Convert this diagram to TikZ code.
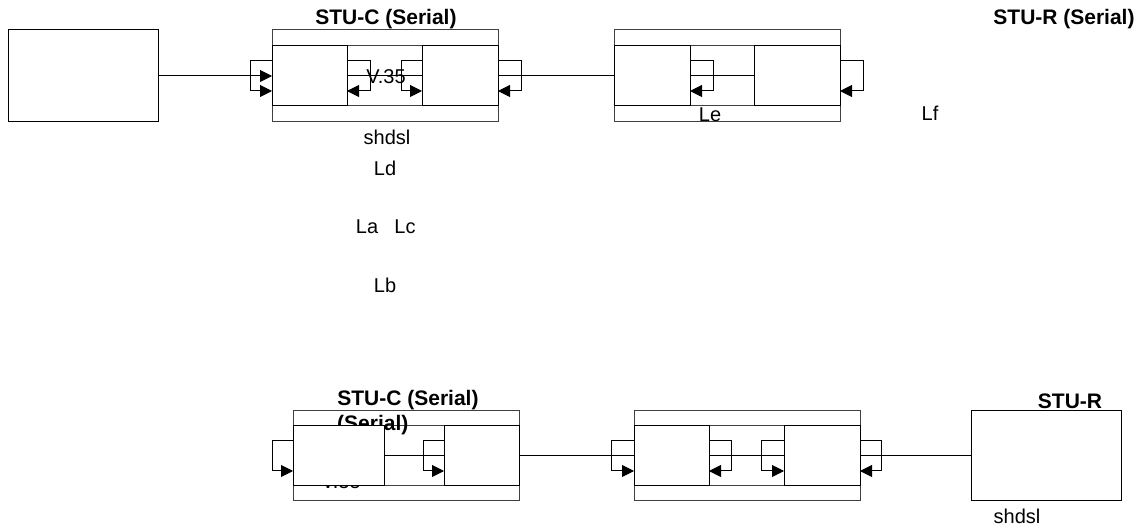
\documentclass[tikz,border=0pt]{standalone}
\usepackage{fontspec}
\setmainfont{Liberation Sans}
\usetikzlibrary{arrows.meta,calc}
\begin{document}
\begin{tikzpicture}[x=1pt,y=-1pt,
  box/.style={draw=black,line width=1pt,fill=white,inner sep=0pt,outer sep=0pt,minimum height=60pt},
  frame/.style={draw=black!75,line width=1pt,inner sep=0pt,outer sep=0pt,minimum height=92pt},
  inl/.style={draw=black!75,line width=1pt},
  wire/.style={draw=black,line width=1pt},
  arr/.style={draw=black,line width=1pt,-{Triangle[length=12pt,width=12pt]}},
  lbl/.style={inner sep=0pt,font=\fontsize{20}{22}\selectfont},
  ttl/.style={inner sep=0pt,font=\fontsize{21}{23}\selectfont\bfseries}
]
\useasboundingbox (0,0) rectangle (1144,526);

% ---------- top row ----------
\node[box,minimum width=150pt,minimum height=92pt] (L) at (83,76) {};
\node[frame,minimum width=226pt] (F1) at (385,76) {};
\node[frame,minimum width=226pt] (F2) at (727,76) {};
\draw[inl] ($(F1.west)+(0,-30)$) -- ($(F1.east)+(0,-30)$);
\draw[inl] ($(F1.west)+(0,30)$) -- ($(F1.east)+(0,30)$);
\draw[inl] ($(F2.west)+(0,-30)$) -- ($(F2.east)+(0,-30)$);
\draw[inl] ($(F2.west)+(0,30)$) -- ($(F2.east)+(0,30)$);

\node[box,minimum width=75pt] (A) at (309.5,76) {};
\node[box,minimum width=76pt] (B) at (460,76) {};
\node[box,minimum width=76pt] (C) at (652,76) {};
\node[box,minimum width=86pt] (D) at (797,76) {};

\node[ttl] (t1) at (386,19) {STU-C (Serial)};
\node[ttl] (t2) at (1064,19) {STU-R (Serial)};

\draw[arr] (L.east) -- (A.west);
\draw[wire] (A.east) -- (B.west);
\draw[wire] (B.east) -- (C.west);
\draw[wire] (C.east) -- (D.west);

\draw[arr] ($(A.west)+(0,-15)$) -- ++(-22,0) -- ++(0,30) -- ($(A.west)+(0,15)$);
\draw[arr] ($(A.east)+(0,-15)$) -- ++(23,0) -- ++(0,30) -- ($(A.east)+(0,15)$);
\draw[arr] ($(B.west)+(0,-15)$) -- ++(-21,0) -- ++(0,30) -- ($(B.west)+(0,15)$);
\draw[arr] ($(B.east)+(0,-15)$) -- ++(23,0) -- ++(0,30) -- ($(B.east)+(0,15)$);
\draw[arr] ($(C.east)+(0,-15)$) -- ++(23,0) -- ++(0,30) -- ($(C.east)+(0,15)$);
\draw[arr] ($(D.east)+(0,-15)$) -- ++(23,0) -- ++(0,30) -- ($(D.east)+(0,15)$);

\node[lbl] (v1) at (386,77) {V.35};
\node[lbl] (s1) at (387,137) {shdsl};
\node[lbl] (ld) at (385,168) {Ld};
\node[lbl] (la) at (367,227) {La};
\node[lbl] (lc) at (405,227) {Lc};
\node[lbl] (lb) at (385,285) {Lb};
\node[lbl] (le) at (710,115) {Le};
\node[lbl] (lf) at (930,113) {Lf};

% ---------- bottom row ----------
\node[frame,minimum width=226pt,minimum height=90pt] (F3) at (406,456) {};
\node[frame,minimum width=226pt,minimum height=90pt] (F4) at (747,456) {};
\draw[inl] ($(F3.west)+(0,-30)$) -- ($(F3.east)+(0,-30)$);
\draw[inl] ($(F3.west)+(0,30)$) -- ($(F3.east)+(0,30)$);
\draw[inl] ($(F4.west)+(0,-30)$) -- ($(F4.east)+(0,-30)$);
\draw[inl] ($(F4.west)+(0,30)$) -- ($(F4.east)+(0,30)$);

\node[ttl] (t3) at (408,400) {STU-C (Serial)};
\node[ttl,anchor=west] (t4) at (337,425) {(Serial)};
\node[lbl] (v2) at (341,482) {V.35};

\node[box,minimum width=91pt] (E) at (338.5,456) {};
\node[box,minimum width=75pt] (F) at (481.5,456) {};
\node[box,minimum width=75pt] (G) at (671.5,456) {};
\node[box,minimum width=76pt] (H) at (822,456) {};
\node[box,minimum width=150pt,minimum height=90pt] (R) at (1046,456) {};

\node[ttl] (t5) at (1070,401) {STU-R};
\node[lbl] (s2) at (1017,516) {shdsl};

\draw[wire] (E.east) -- (F.west);
\draw[wire] (F.east) -- (G.west);
\draw[wire] (G.east) -- (H.west);
\draw[wire] (H.east) -- (R.west);

\draw[arr] ($(E.west)+(0,-15)$) -- ++(-21,0) -- ++(0,30) -- ($(E.west)+(0,15)$);
\draw[arr] ($(F.west)+(0,-15)$) -- ++(-21,0) -- ++(0,30) -- ($(F.west)+(0,15)$);
\draw[arr] ($(G.west)+(0,-15)$) -- ++(-23,0) -- ++(0,30) -- ($(G.west)+(0,15)$);
\draw[arr] ($(G.east)+(0,-15)$) -- ++(22,0) -- ++(0,30) -- ($(G.east)+(0,15)$);
\draw[arr] ($(H.west)+(0,-15)$) -- ++(-23,0) -- ++(0,30) -- ($(H.west)+(0,15)$);
\draw[arr] ($(H.east)+(0,-15)$) -- ++(21,0) -- ++(0,30) -- ($(H.east)+(0,15)$);
\end{tikzpicture}
\end{document}
